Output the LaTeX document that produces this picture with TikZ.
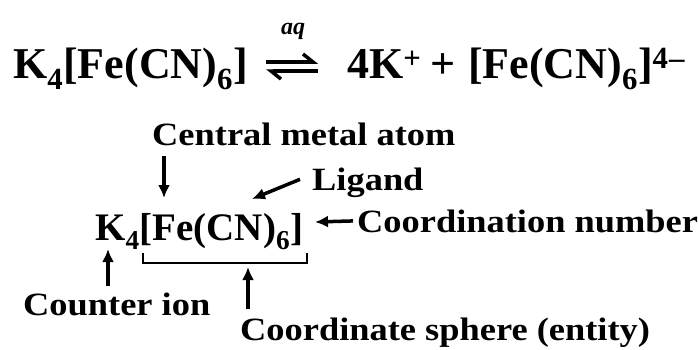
\documentclass[tikz,border=0pt]{standalone}
\usepackage{fontspec}
\setmainfont{Liberation Serif}
\newfontfamily\lblfont{Liberation Serif}[FakeStretch=1.12]
\usetikzlibrary{arrows.meta, positioning}

\begin{document}
\begin{tikzpicture}[x=1pt, y=-1pt,
    chem/.style={inner sep=0pt, anchor=base west, font=\fontsize{44}{48}\selectfont\bfseries},
    chemsm/.style={inner sep=0pt, anchor=base west, font=\fontsize{39}{42}\selectfont\bfseries},
    cond/.style={inner sep=0pt, anchor=base, font=\fontsize{24}{26}\selectfont\bfseries\itshape},
    lbl/.style={inner sep=0pt, anchor=base west, font=\lblfont\fontsize{32.5}{36}\selectfont\bfseries},
    arr/.style={-{Latex[length=13pt, width=12pt]}, line width=3.5pt},
    harp/.style={-{Straight Barb[harpoon, left, length=10pt, width=16pt]}, line width=3.5pt}
]
    \useasboundingbox (0,0) rectangle (698,349);

    % dissociation in water
    \node[chem] (salt) at (13,78) {K\textsubscript{4}[Fe(CN)\textsubscript{6}]};
    \node[cond] (aq) at (293,34) {aq};
    \node[chem] (kion) at (347,78) {4K\textsuperscript{+}};
    \node[chem] (plus) at (430,78) {+};
    \node[chem] (anion) at (468,78) {[Fe(CN)\textsubscript{6}]\textsuperscript{4\kern1pt\textendash}};

    \coordinate (fwdL) at (266,62);
    \coordinate (fwdR) at (318,62);
    \coordinate (revL) at (266,71);
    \coordinate (revR) at (318,71);
    \draw[harp] (fwdL) -- (fwdR);
    \draw[harp] (revR) -- (revL);

    % parts of the complex
    \node[chemsm] (formula) at (95,240) {K\textsubscript{4}[Fe(CN)\textsubscript{6}]};
    \node[lbl] (central) at (152,145) {Central metal atom};
    \node[lbl] (ligand) at (312,190) {Ligand};
    \node[lbl] (cn) at (357,232) {Coordination number};
    \node[lbl] (counter) at (23,315) {Counter ion};
    \node[lbl] (sphere) at (240,340) {Coordinate sphere (entity)};

    \coordinate (fe) at (164,198);
    \coordinate (cngrp) at (252,199);
    \coordinate (six) at (315,222);
    \coordinate (kpt) at (108,249);
    \coordinate (brL) at (143,253);
    \coordinate (brR) at (307,253);
    \coordinate (brmid) at (248,267);

    \draw[arr] (fe |- central.south) ++(0,10) -- (fe);
    \draw[arr] ([shift={(-12,-3)}]ligand.west) -- (cngrp);
    \draw[arr] ([xshift=-4pt]cn.west) -- (six);
    \draw[arr] (kpt |- counter.north) ++(0,-6) -- (kpt);
    \draw[line width=2.5pt] (brL) -- ++(0,10) -| (brR);
    \draw[arr] (brmid |- sphere.north) ++(0,-8) -- (brmid);
\end{tikzpicture}
\end{document}
